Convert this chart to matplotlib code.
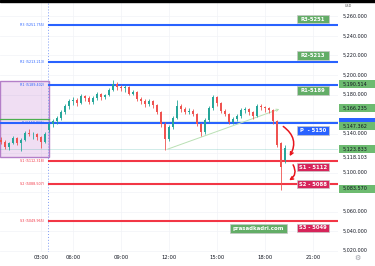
import matplotlib
matplotlib.use('Agg')
import matplotlib.pyplot as plt
from matplotlib.patches import Rectangle, FancyArrowPatch
import matplotlib.transforms as mtrans

# ---------------- data ----------------
# previous session candles (chart x units)
prev_x = [1.50, 1.75, 2.00, 2.25, 2.50, 2.75, 3.00, 3.25, 3.50, 3.75, 4.00, 4.25]
prev_o = [5133, 5131, 5126, 5130, 5135, 5130, 5133, 5141, 5139, 5140, 5136, 5131]
prev_h = [5136, 5133, 5131, 5137, 5136, 5135, 5143, 5145, 5142, 5141, 5137, 5142]
prev_l = [5129, 5124, 5123, 5129, 5128, 5122, 5132, 5137, 5134, 5133, 5125, 5130]
prev_c = [5131, 5126, 5130, 5135, 5130, 5133, 5141, 5139, 5140, 5136, 5131, 5140]

# current session candles
main_x = [4.50, 4.75, 5.00, 5.25, 5.50, 5.75, 6.00, 6.25, 6.50, 6.75,
          7.00, 7.25, 7.50, 7.75, 8.00, 8.25, 8.50, 8.75, 9.00, 9.25,
          9.50, 9.75, 10.00, 10.25, 10.50, 10.75, 11.00, 11.25, 11.50, 11.75,
          12.00, 12.25, 12.50, 12.75, 13.00, 13.25, 13.50, 13.75, 14.00, 14.25,
          14.50, 14.75, 15.00, 15.25, 15.50, 15.75, 16.00, 16.25, 16.50, 16.75,
          17.00, 17.25, 17.50, 17.75, 18.00, 18.25, 18.50, 18.75, 19.00, 19.25]
main_o = [5144, 5150, 5153, 5156, 5162, 5168, 5173, 5174, 5171, 5178,
          5176, 5172, 5176, 5181, 5177, 5179, 5185, 5191, 5188, 5187,
          5188, 5181, 5183, 5175, 5173, 5170, 5173, 5169, 5162, 5150,
          5134, 5147, 5156, 5168, 5165, 5162, 5163, 5160, 5150, 5142,
          5154, 5166, 5177, 5171, 5163, 5160, 5152, 5155, 5158, 5164,
          5165, 5162, 5158, 5168, 5167, 5166, 5164, 5153, 5130, 5113]
main_h = [5152, 5155, 5158, 5164, 5170, 5175, 5177, 5176, 5181, 5180,
          5178, 5178, 5183, 5182, 5181, 5187, 5195, 5193, 5190, 5190,
          5189, 5185, 5184, 5177, 5175, 5175, 5174, 5170, 5163, 5152,
          5149, 5158, 5174, 5170, 5167, 5166, 5165, 5161, 5151, 5156,
          5168, 5180, 5178, 5172, 5165, 5161, 5157, 5160, 5166, 5167,
          5166, 5163, 5170, 5170, 5168, 5167, 5165, 5154, 5131, 5128]
main_l = [5142, 5147, 5150, 5154, 5160, 5165, 5169, 5168, 5170, 5173,
          5170, 5170, 5174, 5174, 5175, 5178, 5184, 5185, 5184, 5183,
          5179, 5179, 5173, 5170, 5167, 5168, 5166, 5160, 5147, 5123,
          5132, 5145, 5155, 5162, 5160, 5160, 5158, 5148, 5137, 5140,
          5152, 5164, 5168, 5161, 5158, 5150, 5150, 5153, 5156, 5161,
          5159, 5155, 5157, 5164, 5162, 5161, 5150, 5126, 5082, 5110]
main_c = [5150, 5153, 5156, 5162, 5168, 5173, 5174, 5171, 5178, 5176,
          5172, 5176, 5181, 5177, 5179, 5185, 5191, 5188, 5187, 5188,
          5181, 5183, 5175, 5173, 5170, 5173, 5169, 5162, 5150, 5134,
          5147, 5156, 5168, 5165, 5162, 5163, 5160, 5150, 5142, 5154,
          5166, 5177, 5171, 5163, 5160, 5152, 5155, 5158, 5164, 5165,
          5162, 5158, 5168, 5167, 5166, 5164, 5153, 5128, 5106, 5125]

pivot_names = ['R3', 'R2', 'R1', 'P', 'S1', 'S2', 'S3']
pivot_vals = [5251.755, 5213.213, 5189.402, 5150.860, 5112.318, 5088.507, 5049.965]
pivot_tags = ['R3-5251', 'R2-5213', 'R1-5189', 'P  - 5150', 'S1 - 5112', 'S2 - 5088', 'S3 - 5049']

range_box = (5116, 5194)          # previous-session box (low, high)
prev_green = 5154.5
main_green = 5151.5
last_price = 5123.833
trend_x = [11.75, 19.06]
trend_y = [5123, 5166]

axis_ticks = [5260, 5240, 5220, 5200, 5180, 5140, 5100, 5060, 5040, 5020]
axis_green = [5190.514, 5166.235, 5147.362, 5123.833, 5083.570]
axis_blue = 5150.860
axis_hidden = 5118.103

time_pos = [4.0, 6, 9, 12, 15, 18, 21]
time_lab = ['03:00', '06:00', '09:00', '12:00', '15:00', '18:00', '21:00']
session_break = 4.44

# ---------------- style ----------------
UP, DN = '#26a69a', '#ef5350'
BLUE, RED = '#2962ff', '#f23645'
GREENBOX, REDBOX = '#63ad67', '#d6245a'
PXY = 0.975                      # pixels per price unit
PXX = 16.0                       # pixels per chart hour

fig = plt.figure(figsize=(3.75, 2.66), dpi=100)
ax = fig.add_axes([0, 14 / 266, 338 / 375, 252 / 266])
XMIN, XMAX = 1.4375, 22.5625
YMIN, YMAX = 5018.5, 5276.9
ax.set_xlim(XMIN, XMAX)
ax.set_ylim(YMIN, YMAX)
for s in ax.spines.values():
    s.set_visible(False)
ax.set_yticks([])

# grid
for p in range(5020, 5280, 20):
    ax.axhline(p, color='#f1f3f7', lw=0.5, zorder=0)
for t in time_pos:
    ax.axvline(t, color='#f1f3f7', lw=0.5, zorder=0)

ax.set_xticks(time_pos)
ax.set_xticklabels(time_lab, fontsize=3.8, color='#131722')
ax.tick_params(axis='x', length=0, pad=2.5)

# previous-session box
ax.add_patch(Rectangle((XMIN, range_box[0]), 4.53 - XMIN, range_box[1] - range_box[0],
                       facecolor='#9c27b0', alpha=0.15, edgecolor='none', zorder=1))
ax.add_patch(Rectangle((XMIN, range_box[0]), 4.53 - XMIN, range_box[1] - range_box[0],
                       facecolor='none', edgecolor='#b47fc8', lw=1.0, zorder=1))

ax.axvline(session_break, color='#7f9cf5', lw=0.7, ls=(0, (1, 2)), zorder=1)

# green reference lines
ax.plot([XMIN, 4.47], [prev_green, prev_green], color='#4caf50', lw=0.9, zorder=2)
ax.plot([4.47, XMAX], [main_green, main_green], color='#4caf50', lw=0.9, zorder=2)
ax.axhline(last_price, color='#26a69a', lw=0.6, alpha=0.25, zorder=1)

# pivot lines
for name, v in zip(pivot_names, pivot_vals):
    col = RED if name.startswith('S') else BLUE
    x0 = XMIN if name == 'P' else 4.47
    ax.plot([x0, XMAX], [v, v], color=col, lw=1.5, zorder=3)
    ax.text(4.19, v, f'{name} ({v:.3f})', fontsize=2.4, color=col,
            ha='right', va='center', zorder=5)


def candles(xs, os_, hs, ls, cs):
    for x, o, h, l, c in zip(xs, os_, hs, ls, cs):
        col = UP if c >= o else DN
        ax.plot([x, x], [l, h], color=col, lw=0.6, zorder=4, solid_capstyle='butt')
        ax.bar(x, max(abs(c - o), 0.8), bottom=min(o, c), width=0.17,
               color=col, linewidth=0, zorder=4)


candles(prev_x, prev_o, prev_h, prev_l, prev_c)
candles(main_x, main_o, main_h, main_l, main_c)

# trendline
ax.annotate('', xy=(trend_x[1], trend_y[1]), xytext=(trend_x[0], trend_y[0]),
            arrowprops=dict(arrowstyle='->', color='#b9e0b4', lw=0.7,
                            mutation_scale=4), zorder=3)

# red curved arrows P -> S1 -> S2
arr1 = FancyArrowPatch((19.0, pivot_vals[3] - 2), (19.45, pivot_vals[4] + 2),
                       connectionstyle='arc3,rad=-0.5', arrowstyle='->',
                       mutation_scale=5, color='#e8141c', lw=1.1, zorder=6)
arr2 = FancyArrowPatch((19.67, pivot_vals[4] - 2), (19.36, pivot_vals[5] + 2),
                       connectionstyle='arc3,rad=-0.55', arrowstyle='->',
                       mutation_scale=5, color='#e8141c', lw=1.1, zorder=6)
ax.add_patch(arr1)
ax.add_patch(arr2)

# right-side pivot tags
tag_off_px = [-5.5, -6.5, 5.0, 7.5, 6.5, 0.5, 6.5]
for name, v, tag, off in zip(pivot_names, pivot_vals, pivot_tags, tag_off_px):
    fc = GREENBOX if name.startswith('R') else (BLUE if name == 'P' else REDBOX)
    yc = v - off / PXY
    w = 32 / PXX
    h = 8.5 / PXY
    ax.add_patch(Rectangle((21.0 - w / 2, yc - h / 2), w, h, facecolor=fc,
                           edgecolor='#c8c8c8', lw=0.5, zorder=7))
    ax.text(21.0, yc, tag, fontsize=3.8, color='white', fontweight='bold',
            ha='center', va='center', zorder=8)

# watermark tag
wx0, wx1 = 15.81, 19.375
wy = pivot_vals[6] - 7 / PXY
ax.add_patch(Rectangle((wx0, wy - 4.5 / PXY), wx1 - wx0, 9 / PXY, facecolor=GREENBOX,
                       edgecolor='#c8c8c8', lw=0.5, zorder=7))
ax.text((wx0 + wx1) / 2, wy, 'prasadkadri.com', fontsize=3.9, color='white',
        fontweight='bold', ha='center', va='center', zorder=8)

# price axis
tr = mtrans.blended_transform_factory(ax.transAxes, ax.transData)
for p in axis_ticks:
    ax.text(1 + 5 / 338, p, f'{p:,.3f}', transform=tr, fontsize=3.5,
            color='#131722', ha='left', va='center', clip_on=False)
ax.text(1 + 5 / 338, axis_hidden, f'{axis_hidden:,.3f}', transform=tr, fontsize=3.5,
        color='#131722', ha='left', va='top', clip_on=False)
bw = 36 / 338
bh = 8 / PXY
ax.add_patch(Rectangle((1 + 1 / 338, axis_blue - bh / 2 + 1), bw, bh, transform=tr,
                       facecolor=BLUE, edgecolor='none', clip_on=False, zorder=9))
for p in axis_green:
    ax.add_patch(Rectangle((1 + 1 / 338, p - bh / 2), bw, bh, transform=tr,
                           facecolor='#6dbb70', edgecolor='none', clip_on=False, zorder=11))
    ax.text(1 + 5 / 338, p, f'{p:,.3f}', transform=tr, fontsize=3.5,
            color='#131722', ha='left', va='center', clip_on=False, zorder=12)

fig.text(345 / 375, 1 - 6 / 266, 'USD', fontsize=2.4, color='#555555', va='center')
fig.text(357 / 375, 1 - 258 / 266, '\u2699', fontsize=5, color='#9598a1',
         ha='center', va='center')
fig.add_artist(Rectangle((0, 1 - 1.5 / 266), 1, 1.5 / 266, transform=fig.transFigure,
                         color='black'))

fig.savefig('out.png', dpi=100)
